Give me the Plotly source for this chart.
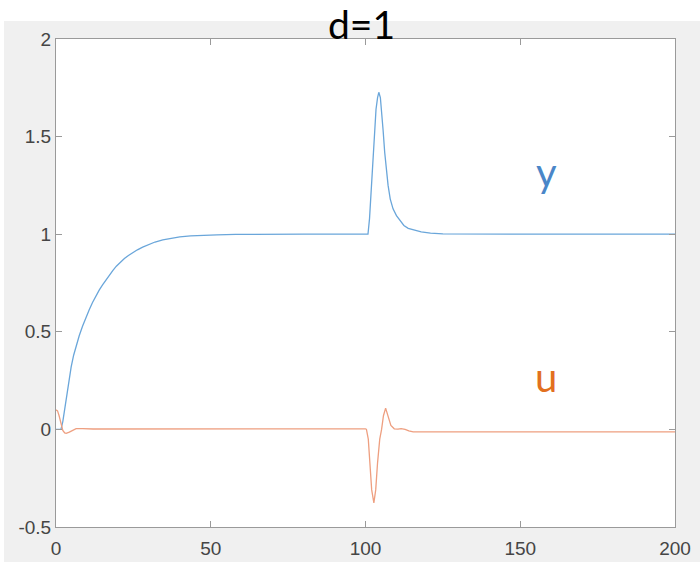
import plotly.graph_objects as go

# ---- data ----
t_y = [0, 1.0, 1.6, 2.2, 3.0, 3.5, 4.2, 4.9, 5.7, 6.5, 7.5, 8.6, 9.6, 10.7, 11.8, 12.9, 14.0,
       15.1, 16.2, 17.3, 18.4, 19.5, 20.8, 22.1, 23.4, 24.8, 26.3, 28.0, 30.0, 32.0, 34.5,
       37.0, 40.0, 43.5, 47.5, 52.0, 58.0, 65.0, 80.0,
       100.0, 100.8, 101.3, 101.7, 102.1, 102.5, 103.0, 103.4, 103.9, 104.3, 104.8, 105.2,
       105.7, 106.2, 106.7, 107.3, 108.0, 108.9, 110.0, 111.1, 112.4, 113.8, 115.8, 118.0,
       121.0, 125.0, 150.0, 200.0]
y_vals = [0, 0, 0.0, 0.04, 0.13, 0.18, 0.25, 0.32, 0.38, 0.43, 0.48, 0.53, 0.572, 0.612, 0.65,
          0.685, 0.715, 0.742, 0.768, 0.792, 0.815, 0.836, 0.857, 0.875, 0.891, 0.906, 0.92,
          0.934, 0.948, 0.96, 0.971, 0.979, 0.986, 0.991, 0.995, 0.997, 0.999, 1.0, 1.0,
          1.0, 1.0, 1.08, 1.2, 1.31, 1.42, 1.55, 1.64, 1.70, 1.727, 1.70, 1.64, 1.53, 1.42,
          1.33, 1.25, 1.18, 1.13, 1.095, 1.07, 1.045, 1.03, 1.02, 1.012, 1.006, 1.002, 1.0, 1.0]

t_u = [0, 0.5, 1.0, 1.6, 2.2, 2.8, 3.3, 4.3, 5.4, 6.5, 8.6, 12.0, 100.0, 100.3, 100.9, 101.4,
       102.0, 102.7, 103.3, 103.9, 104.6, 105.2, 105.8, 106.5, 107.3, 108.2, 109.3, 110.5,
       111.5, 112.8, 114.0, 115.4, 130.0, 200.0]
u_vals = [0.1, 0.095, 0.07, 0.03, -0.005, -0.018, -0.02, -0.014, -0.004, 0.004, 0.004, 0.002,
          0.003, 0.0, -0.05, -0.17, -0.31, -0.376, -0.31, -0.17, -0.05, 0.0, 0.07, 0.109,
          0.063, 0.02, 0.003, 0.001, 0.004, 0.0, -0.008, -0.013, -0.013, -0.013]

x_ticks = [0, 50, 100, 150, 200]
x_ticklabels = ["0", "50", "100", "150", "200"]
y_ticks = [-0.5, 0, 0.5, 1, 1.5, 2]
y_ticklabels = ["-0.5", "0", "0.5", "1", "1.5", "2"]

title_text = "d=1"
label_y = "y"
label_u = "u"

# ---- figure ----
fig = go.Figure()
fig.add_trace(go.Scatter(x=t_y, y=y_vals, mode="lines",
                         line=dict(color="#6aa6da", width=1.3), showlegend=False))
fig.add_trace(go.Scatter(x=t_u, y=u_vals, mode="lines",
                         line=dict(color="#ee9f80", width=1.3), showlegend=False))

axis_common = dict(showline=True, linecolor="#9a9a9a", linewidth=1, mirror="ticks",
                   ticks="inside", ticklen=6, tickcolor="#9a9a9a", tickwidth=1,
                   showgrid=False, zeroline=False, automargin=False,
                   tickfont=dict(family="Liberation Sans, Arial", size=19, color="#454545"))

fig.update_xaxes(range=[0, 200], tickvals=x_ticks, ticktext=x_ticklabels,
                 ticklabelstandoff=4, **axis_common)
fig.update_yaxes(range=[-0.5, 2], tickvals=y_ticks, ticktext=y_ticklabels, **axis_common)

# white strips around the grey figure area (top and left)
fig.add_shape(type="rect", xref="paper", yref="paper", x0=-0.2, x1=1.2,
              y0=(527 - 21) / 488, y1=1.3, fillcolor="white", line_width=0, layer="below")
fig.add_shape(type="rect", xref="paper", yref="paper", x0=-0.2, x1=(4 - 56) / 619,
              y0=-0.3, y1=1.3, fillcolor="white", line_width=0, layer="below")

fig.add_annotation(text=title_text, xref="paper", yref="paper", x=(361 - 56) / 619,
                   y=(527 - 24) / 488, xanchor="center", yanchor="middle", showarrow=False,
                   font=dict(family="Lato, Open Sans", size=39, color="black"))
fig.add_annotation(text=label_y, xref="x", yref="y", x=158.6, y=1.32,
                   xanchor="center", yanchor="middle", showarrow=False,
                   font=dict(family="Lato, Open Sans", size=40, color="#4a86c8"))
fig.add_annotation(text=label_u, xref="x", yref="y", x=158.3, y=0.27,
                   xanchor="center", yanchor="middle", showarrow=False,
                   font=dict(family="Lato, Open Sans", size=40, color="#e2701f"))

fig.update_layout(width=700, height=562, margin=dict(l=56, r=25, t=39, b=35),
                  paper_bgcolor="#f0f0f0", plot_bgcolor="white")

fig.write_html("out.html",
               config={"responsive": False, "displayModeBar": False},
               post_script="document.documentElement.style.overflow='hidden';"
                           "document.body.style.overflow='hidden';"
                           "document.body.style.margin='0';")
